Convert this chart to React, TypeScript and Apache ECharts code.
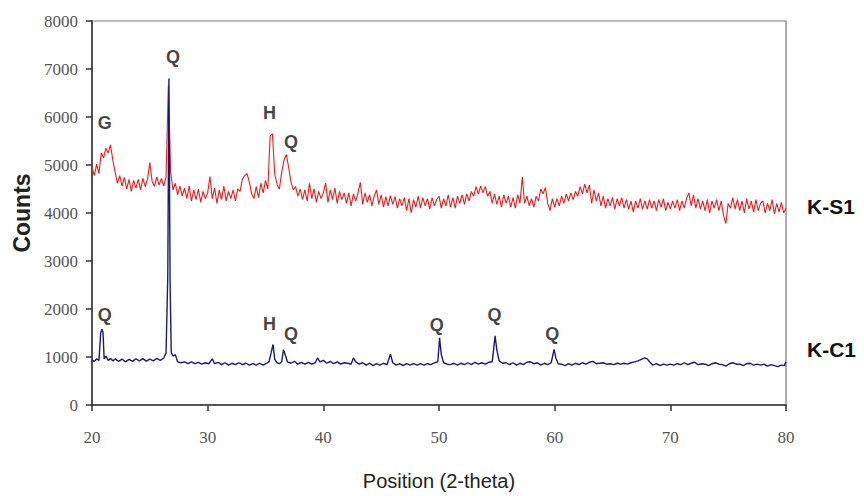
import React, { useEffect, useRef } from "react";
import * as echarts from "echarts";

// K-S1 measured on a regular 2-theta grid (20.0 .. 80.0, step 0.2)
const ksStart = 20;
const ksStep = 0.2;
const ksCounts = [
  4950, 4780, 5020, 4820, 5250, 5150, 5350, 5250, 5420, 5100,
  4850, 4620, 4780, 4560, 4740, 4500, 4700, 4450, 4680, 4520,
  4700, 4480, 4720, 4550, 4700, 5050, 4650, 4560, 4750, 4580,
  4720, 4560, 4750, 6650, 4850, 4480, 4620, 4380, 4560, 4350,
  4520, 4300, 4560, 4250, 4480, 4280, 4500, 4220, 4450, 4300,
  4420, 4760, 4300, 4520, 4200, 4480, 4280, 4560, 4250, 4450,
  4300, 4480, 4250, 4500, 4450, 4700, 4780, 4820, 4650, 4400,
  4300, 4550, 4320, 4620, 4420, 4680, 4500, 5600, 5650, 4800,
  4600, 4500, 4850, 5100, 5220, 4950, 4650, 4480, 4550, 4350,
  4500, 4280, 4480, 4250, 4620, 4300, 4500, 4220, 4450, 4300,
  4420, 4620, 4220, 4480, 4280, 4520, 4200, 4450, 4280, 4420,
  4200, 4420, 4150, 4400, 4250, 4420, 4640, 4180, 4420, 4220,
  4380, 4150, 4350, 4480, 4180, 4380, 4120, 4340, 4150, 4360,
  4180, 4340, 4100, 4300, 4150, 4320, 4050, 4300, 4000, 4280,
  4120, 4350, 4100, 4320, 4150, 4300, 4080, 4320, 4150, 4280,
  4350, 4100, 4300, 4150, 4380, 4120, 4320, 4100, 4350, 4200,
  4380, 4180, 4400, 4250, 4450, 4350, 4550, 4400, 4560, 4420,
  4550, 4350, 4450, 4200, 4400, 4180, 4350, 4120, 4380, 4200,
  4350, 4120, 4320, 4100, 4380, 4200, 4750, 4200, 4350, 4150,
  4300, 4120, 4350, 4250, 4500, 4400, 4530, 4200, 4050, 4300,
  4120, 4300, 4150, 4350, 4200, 4400, 4250, 4420, 4280, 4450,
  4350, 4550, 4400, 4600, 4420, 4580, 4200, 4480, 4250, 4420,
  4150, 4350, 4100, 4300, 4150, 4320, 4080, 4300, 4150, 4320,
  4100, 4280, 4080, 4250, 4020, 4250, 4100, 4300, 4080, 4250,
  4080, 4280, 4100, 4250, 4050, 4280, 4120, 4300, 4050, 4220,
  4080, 4250, 4100, 4280, 4050, 4250, 4100, 4300, 4420, 4150,
  4380, 4100, 4300, 4080, 4250, 4050, 4280, 4000, 4250, 4100,
  4280, 4050, 4250, 3950, 3780, 4200, 4100, 4320, 4080, 4280,
  4050, 4250, 4000, 4300, 4080, 4250, 4020, 4280, 4050, 4200,
  4250, 4000, 4200, 4050, 4280, 3980, 4200, 4020, 4220, 4000,
  4100,
];

// K-C1 points [2-theta, counts]
const kcPoints: [number, number][] = [
  [20.0, 940], [20.2, 910], [20.4, 960], [20.6, 930], [20.75, 1500], [20.85, 1580], [20.95, 1520], [21.05, 960],
  [21.2, 1020], [21.4, 930], [21.6, 970], [21.8, 920], [22.0, 960], [22.3, 910], [22.6, 955], [22.9, 900],
  [23.2, 950], [23.5, 910], [23.8, 960], [24.1, 920], [24.4, 965], [24.7, 915], [25.0, 955], [25.3, 920],
  [25.6, 970], [25.9, 930], [26.2, 980], [26.4, 1080], [26.55, 2650], [26.65, 6800], [26.75, 2600], [26.85, 1100],
  [27.0, 1020], [27.2, 1050], [27.4, 900], [27.7, 880], [28.0, 900], [28.3, 860], [28.6, 900], [28.9, 860],
  [29.2, 890], [29.5, 850], [29.8, 880], [30.1, 860], [30.4, 960], [30.6, 860], [30.9, 890], [31.2, 840],
  [31.5, 880], [31.8, 830], [32.1, 870], [32.4, 840], [32.7, 880], [33.0, 840], [33.3, 870], [33.6, 830],
  [33.9, 860], [34.2, 830], [34.5, 870], [34.8, 830], [35.1, 870], [35.3, 900], [35.5, 1100], [35.65, 1260],
  [35.8, 950], [36.0, 880], [36.2, 860], [36.4, 900], [36.55, 1150], [36.7, 1050], [36.9, 900], [37.2, 870],
  [37.5, 910], [37.8, 850], [38.1, 890], [38.4, 850], [38.7, 890], [39.0, 850], [39.3, 880], [39.5, 980],
  [39.7, 900], [40.0, 930], [40.3, 870], [40.6, 910], [40.9, 860], [41.2, 900], [41.5, 850], [41.8, 880],
  [42.1, 870], [42.4, 850], [42.6, 980], [42.8, 900], [43.1, 850], [43.4, 880], [43.7, 830], [44.0, 870],
  [44.3, 820], [44.6, 860], [44.9, 830], [45.2, 870], [45.5, 840], [45.8, 1060], [46.0, 880], [46.3, 830],
  [46.6, 860], [46.9, 820], [47.2, 860], [47.5, 830], [47.8, 860], [48.1, 830], [48.4, 860], [48.7, 830],
  [49.0, 860], [49.3, 840], [49.6, 880], [49.9, 900], [50.05, 1400], [50.2, 1050], [50.4, 880], [50.7, 850],
  [51.0, 840], [51.3, 870], [51.6, 830], [51.9, 870], [52.2, 840], [52.5, 880], [52.8, 840], [53.1, 890],
  [53.4, 850], [53.7, 880], [54.0, 850], [54.3, 890], [54.6, 900], [54.85, 1440], [55.0, 1150], [55.2, 920],
  [55.5, 870], [55.8, 880], [56.1, 840], [56.4, 880], [56.7, 830], [57.0, 870], [57.3, 840], [57.6, 890],
  [57.9, 900], [58.2, 860], [58.5, 880], [58.8, 830], [59.1, 870], [59.4, 840], [59.7, 880], [59.95, 1160],
  [60.1, 980], [60.3, 860], [60.6, 850], [60.9, 820], [61.2, 860], [61.5, 830], [61.8, 870], [62.1, 840],
  [62.4, 880], [62.7, 850], [63.0, 890], [63.3, 910], [63.6, 860], [63.9, 870], [64.2, 880], [64.5, 850],
  [64.8, 860], [65.1, 840], [65.4, 870], [65.7, 850], [66.0, 870], [66.3, 850], [66.6, 880], [66.9, 900],
  [67.2, 920], [67.5, 950], [67.8, 980], [68.0, 960], [68.2, 900], [68.5, 830], [68.8, 860], [69.1, 820],
  [69.4, 850], [69.7, 830], [70.0, 850], [70.3, 830], [70.6, 860], [70.9, 840], [71.2, 880], [71.5, 840],
  [71.8, 870], [72.1, 890], [72.4, 840], [72.7, 860], [73.0, 850], [73.3, 820], [73.6, 860], [73.9, 880],
  [74.2, 850], [74.5, 840], [74.8, 810], [75.1, 860], [75.4, 880], [75.7, 850], [76.0, 850], [76.3, 820],
  [76.6, 860], [76.9, 870], [77.2, 830], [77.5, 850], [77.8, 830], [78.1, 850], [78.4, 810], [78.7, 840],
  [79.0, 820], [79.3, 800], [79.6, 830], [79.85, 820], [80.0, 900],
];

// Phase annotations: [2-theta, counts, letter]
const phaseLabels: [number, number, string][] = [
  [21.1, 5880, "G"],
  [27.0, 7260, "Q"],
  [35.35, 6090, "H"],
  [37.2, 5470, "Q"],
  [21.1, 1870, "Q"],
  [35.35, 1680, "H"],
  [37.2, 1480, "Q"],
  [49.8, 1660, "Q"],
  [54.8, 1870, "Q"],
  [59.8, 1480, "Q"],
];

const seriesNames = ["K-S1", "K-C1"];
const yTicks = [0, 1000, 2000, 3000, 4000, 5000, 6000, 7000, 8000];

export default function App() {
  const ref = useRef<HTMLDivElement>(null);
  useEffect(() => {
    if (!ref.current) return;
    const chart = echarts.init(ref.current, undefined, { renderer: "svg" });
    const ksData = ksCounts.map((v, i) => [+(ksStart + i * ksStep).toFixed(2), v]);
    const serif = "'Liberation Serif', 'Times New Roman', serif";
    const sans = "'Liberation Sans', Arial, sans-serif";
    chart.setOption({
      animation: false,
      backgroundColor: "#ffffff",
      grid: {
        left: 92,
        right: 78,
        top: 21,
        bottom: 90,
        show: true,
        borderColor: "#7a7a7a",
        borderWidth: 1.2,
      },
      xAxis: {
        type: "value",
        min: 20,
        max: 80,
        interval: 10,
        name: "Position (2-theta)",
        nameLocation: "middle",
        nameGap: 66,
        nameTextStyle: { fontFamily: sans, fontSize: 20, color: "#222" },
        axisLine: { show: true, onZero: false, lineStyle: { color: "#333", width: 1.5 } },
        axisTick: { show: true, inside: false, length: 6, lineStyle: { color: "#333", width: 1.5 } },
        axisLabel: { fontFamily: serif, fontSize: 17, color: "#555", margin: 24 },
        splitLine: { show: false },
      },
      yAxis: {
        type: "value",
        min: 0,
        max: yTicks[yTicks.length - 1],
        interval: 1000,
        name: "Counts",
        nameLocation: "middle",
        nameGap: 58,
        nameTextStyle: { fontFamily: sans, fontSize: 23, fontWeight: "bold", color: "#222" },
        axisLine: { show: true, lineStyle: { color: "#333", width: 1.5 } },
        axisTick: { show: true, inside: false, length: 6, lineStyle: { color: "#333", width: 1.5 } },
        axisLabel: {
          fontFamily: serif,
          fontSize: 17,
          color: "#555",
          margin: 14,
          formatter: (v: number) => String(v),
        },
        splitLine: { show: false },
      },
      series: [
        {
          name: seriesNames[0],
          type: "line",
          data: ksData,
          showSymbol: false,
          symbol: "none",
          lineStyle: { color: "#ee1c1c", width: 1.1 },
          z: 2,
        },
        {
          name: seriesNames[1],
          type: "line",
          data: kcPoints,
          showSymbol: false,
          symbol: "none",
          lineStyle: { color: "#1b1a78", width: 1.4 },
          z: 3,
        },
        {
          type: "scatter",
          symbolSize: 0,
          data: phaseLabels.map((p) => ({ value: [p[0], p[1]], name: p[2] })),
          label: {
            show: true,
            position: "inside",
            formatter: (p: any) => p.name,
            fontFamily: sans,
            fontWeight: "bold",
            fontSize: 18,
            color: "#111",
          },
          z: 4,
        },
      ],
      graphic: [
        {
          type: "text",
          left: 807,
          top: 196,
          style: { text: seriesNames[0], font: "bold 21px 'Liberation Sans', Arial, sans-serif", fill: "#111" },
        },
        {
          type: "text",
          left: 807,
          top: 339,
          style: { text: seriesNames[1], font: "bold 21px 'Liberation Sans', Arial, sans-serif", fill: "#111" },
        },
      ],
    });
    return () => chart.dispose();
  }, []);
  return <div ref={ref} style={{ width: 864, height: 496, position: "absolute", left: 0, top: 0 }} />;
}
